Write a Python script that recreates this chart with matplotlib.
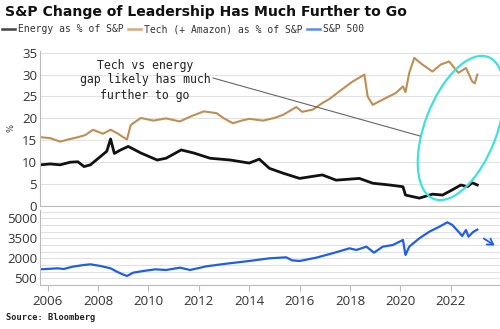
import matplotlib
matplotlib.use("Agg")
import matplotlib.pyplot as plt
from matplotlib.patches import Ellipse, FancyArrowPatch
from matplotlib.lines import Line2D

title = "S&P Change of Leadership Has Much Further to Go"
legend_labels = ["Energy as % of S&P", "Tech (+ Amazon) as % of S&P", "S&P 500"]
source = "Source: Bloomberg"
note = "Tech vs energy\ngap likely has much\nfurther to go"

tech_x = [2005.72, 2006.1, 2006.5, 2006.9, 2007.2, 2007.5, 2007.8, 2008.2, 2008.5, 2008.8,
          2009.0, 2009.15, 2009.3, 2009.7, 2010.2, 2010.7, 2011.25, 2011.7, 2012.2, 2012.7,
          2013.0, 2013.35, 2013.7, 2014.0, 2014.55, 2015.0, 2015.34, 2015.87, 2016.1, 2016.52,
          2016.9, 2017.2, 2017.58, 2018.1, 2018.57, 2018.7, 2018.9, 2019.3, 2019.82, 2020.1,
          2020.2, 2020.35, 2020.55, 2020.87, 2021.27, 2021.6, 2021.93, 2022.3, 2022.6, 2022.85,
          2022.95, 2023.05]
tech_y = [15.7, 15.5, 14.7, 15.3, 15.7, 16.2, 17.4, 16.5, 17.4, 16.5,
          15.7, 15.2, 18.5, 20.1, 19.5, 20.0, 19.3, 20.5, 21.6, 21.2,
          20.0, 18.9, 19.5, 19.9, 19.5, 20.1, 20.8, 22.6, 21.5, 22.0,
          23.5, 24.5, 26.2, 28.4, 30.0, 25.0, 23.1, 24.3, 25.8, 27.3,
          26.0, 30.4, 33.8, 32.3, 30.7, 32.3, 33.0, 30.4, 31.5, 28.4,
          28.0, 30.0]

energy_x = [2005.72, 2006.1, 2006.5, 2006.9, 2007.2, 2007.45, 2007.7, 2008.1, 2008.35, 2008.5,
            2008.65, 2008.9, 2009.2, 2009.7, 2010.35, 2010.7, 2011.3, 2011.8, 2012.45, 2013.25,
            2014.0, 2014.4, 2014.8, 2015.34, 2016.0, 2016.9, 2017.45, 2018.37, 2018.9, 2019.56,
            2020.1, 2020.2, 2020.75, 2021.27, 2021.67, 2022.06, 2022.4, 2022.65, 2022.85, 2023.05]
energy_y = [9.4, 9.6, 9.4, 10.0, 10.1, 9.0, 9.4, 11.3, 12.5, 15.3,
            12.0, 12.8, 13.6, 12.1, 10.5, 10.9, 12.8, 12.1, 10.9, 10.5,
            9.8, 10.7, 8.6, 7.5, 6.3, 7.1, 5.9, 6.3, 5.2, 4.8,
            4.4, 2.5, 1.8, 2.7, 2.5, 3.7, 4.8, 4.4, 5.3, 4.8]

spx_x = [2005.72, 2006.4, 2006.64, 2007.0, 2007.44, 2007.7, 2008.1, 2008.5, 2008.75, 2008.95,
         2009.15, 2009.4, 2009.8, 2010.27, 2010.7, 2011.26, 2011.65, 2012.3, 2013.1, 2014.0,
         2014.8, 2015.47, 2015.7, 2016.0, 2016.66, 2017.3, 2017.98, 2018.25, 2018.65, 2018.95,
         2019.3, 2019.7, 2020.1, 2020.2, 2020.35, 2020.75, 2021.15, 2021.55, 2021.86, 2022.06,
         2022.3, 2022.45, 2022.6, 2022.7, 2022.9, 2023.05]
spx_y = [1175, 1250, 1200, 1375, 1500, 1550, 1425, 1250, 1000, 825,
         675, 925, 1050, 1175, 1125, 1300, 1125, 1400, 1600, 1800,
         2000, 2075, 1850, 1800, 2050, 2375, 2750, 2625, 2875, 2425,
         2875, 3000, 3375, 2250, 2875, 3500, 4000, 4375, 4700, 4500,
         4000, 3675, 4125, 3625, 4000, 4150]

top_ticks = [0, 5, 10, 15, 20, 25, 30, 35]
bottom_ticks = [500, 2000, 3500, 5000]
year_ticks = [2006, 2008, 2010, 2012, 2014, 2016, 2018, 2020, 2022]

TECH = "#C08E52"
ENERGY = "#111111"
BLUE = "#1F5FE6"
GRID = "#E2E2E2"
AX = "#BBBBBB"
TICK = "#333333"
tick_font = dict(family="Open Sans", size=9.5)

fig = plt.figure(figsize=(5.0, 3.29), dpi=100)
W, H = 500, 329
xlim = (2005.7, 2023.95)

ax1 = fig.add_axes([40 / W, 1 - 206 / H, 1 - 40 / W, (206 - 50.5) / H])
ax2 = fig.add_axes([40 / W, 1 - 285 / H, 1 - 40 / W, (285 - 210.3) / H])

for ax in (ax1, ax2):
    ax.set_xlim(*xlim)
    for s in ("top", "right"):
        ax.spines[s].set_visible(False)
    ax.spines["left"].set_color(AX)
    ax.spines["bottom"].set_color(AX)
    ax.set_axisbelow(True)
    ax.tick_params(axis="y", length=0, pad=2, colors=TICK)

ax1.set_ylim(0, 35.5)
ax1.set_yticks(top_ticks)
ax1.set_yticklabels([str(t) for t in top_ticks], **tick_font)
ax1.yaxis.grid(True, color=GRID, lw=0.8)
ax1.set_xticks([])
ax1.plot(tech_x, tech_y, color=TECH, lw=1.5)
ax1.plot(energy_x, energy_y, color=ENERGY, lw=2.0)
ax1.set_ylabel("%", fontsize=6, color=TICK, labelpad=5)

ax2.set_ylim(0, 5600)
ax2.set_yticks(bottom_ticks)
ax2.set_yticklabels([str(t) for t in bottom_ticks], **tick_font)
ax2.set_yticks([0, 1000, 1500, 2500, 3000, 4000, 4500, 5500], minor=True)
ax2.yaxis.grid(True, which="both", color=GRID, lw=0.8)
ax2.tick_params(axis="y", which="minor", length=0)
ax2.set_xticks(year_ticks)
ax2.set_xticklabels([str(t) for t in year_ticks], **tick_font)
ax2.tick_params(axis="x", length=4, color=AX, colors=TICK, pad=3)
ax2.plot(spx_x, spx_y, color=BLUE, lw=1.6)

# annotation text and pointer
fig.text(145 / W, 1 - 80 / H, note, ha="center", va="center", family="DejaVu Sans Mono",
         fontsize=8.3, color="#222222", linespacing=1.2)
fig.add_artist(Line2D([213 / W, 420 / W], [1 - 78 / H, 1 - 136 / H], color="#666666", lw=0.8))

# ellipse
ell = Ellipse((4.61, (H - 128) / 100), 1.52, 0.72, angle=69, fill=False,
              edgecolor="#3FE0E0", lw=1.6, transform=fig.dpi_scale_trans, clip_on=False)
fig.add_artist(ell)

# blue arrow
fig.add_artist(FancyArrowPatch(
    (481.5 / W, 1 - 237 / H), (497 / W, 1 - 247 / H), transform=fig.transFigure,
    arrowstyle="->,head_length=4,head_width=2.5", color=BLUE, lw=1.3, mutation_scale=1))

# title, legend, source
fig.text(5 / W, 1 - 12 / H, title, ha="left", va="center", fontsize=10.1,
         fontweight="bold", family="DejaVu Sans", color="#111111")
handles = [Line2D([], [], color="#444444", lw=1.8),
           Line2D([], [], color="#D9A878", lw=1.8),
           Line2D([], [], color="#5A8AE8", lw=1.8)]
fig.legend(handles, legend_labels, loc="center left", bbox_to_anchor=(0.0, 1 - 29 / H),
           ncol=3, frameon=False, handlelength=1.3, handletextpad=0.3, columnspacing=0.5,
           borderaxespad=0, borderpad=0.2,
           prop=dict(family="DejaVu Sans Mono", size=7.0), labelcolor="#333333")
fig.text(6 / W, 1 - 318 / H, source, ha="left", va="center", family="DejaVu Sans Mono",
         fontsize=6.3, fontweight="bold", color="#222222")

fig.savefig("out.png", dpi=100)
